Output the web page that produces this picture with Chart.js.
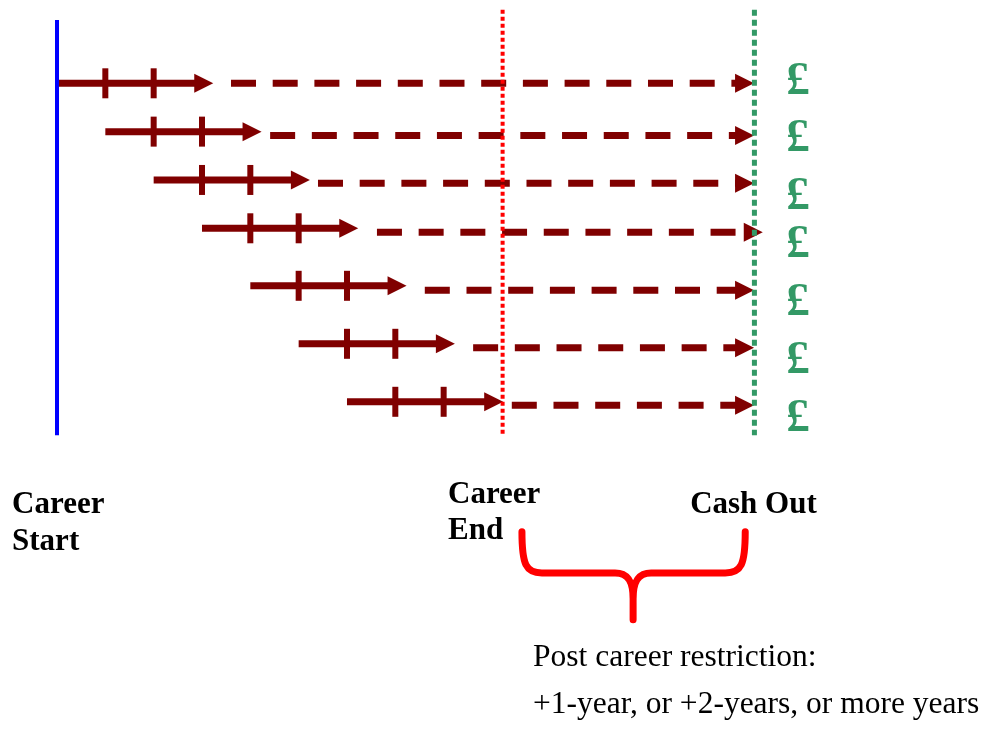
<!DOCTYPE html>
<html>
<head>
<meta charset="utf-8">
<script src="https://cdn.jsdelivr.net/npm/chart.js@4.4.1/dist/chart.umd.min.js"></script>
<style>
    body { margin: 0; background: #fff; }
</style>
</head>
<body>
<canvas id="chartCareer" width="988" height="733"></canvas>
<script>
/* =============================================
 * Career / cash out timeline
 * x = years since career start, y = row (down)
 * ============================================= */

// 1. Rows: solid part of the career (with yearly ticks)
const rowStart = [0, 1, 2, 3, 4, 5, 6];
const solidEnd = [2.86, 3.86, 4.86, 5.86, 6.86, 7.86, 8.86];
const tickA = [1, 2, 3, 4, 5, 6, 7];
const tickB = [2, 3, 4, 5, 6, 7, 8];
const solidRow = [1, 2, 3, 4, 5.19, 6.39, 7.59];

// 2. Rows: dashed part up to the cash out
const dashStart = [3.60, 4.41, 5.40, 6.62, 7.61, 8.61, 9.41];
const dashEnd = [14.05, 14.05, 14.05, 14.23, 14.05, 14.05, 14.05];
const dashRow = [1, 2.08, 3.07, 4.08, 5.28, 6.47, 7.66];

// 3. Pound signs at the cash out
const poundRow = [0.88, 2.07, 3.28, 4.26, 5.46, 6.67, 7.87];
const poundX = 15.33;

// 4. Milestones (vertical lines)
const milestones = ['Career Start', 'Career End', 'Cash Out'];
const milestoneX = [0, 9.22, 14.43];
const milestoneTop = [-0.31, -0.52, -0.52];
const milestoneBottom = [8.28, 8.28, 8.28];

const DARK_RED = '#800000';
const GREEN = '#339966';

// label placement (axis units): left edge + baselines
const labelPos = [
    { x: -0.93, lines: ['Career', 'Start'], base: [9.89, 10.65] },
    { x: 8.09, lines: ['Career', 'End'], base: [9.68, 10.43] },
    { x: 13.10, lines: ['Cash Out'], base: [9.89] }
];
const brace = { left: 9.62, right: 14.24, center: 11.92, top: 10.28, mid: 11.13, bottom: 12.1 };
const note = { x: 9.85, lines: ['Post career restriction:', '+1-year, or +2-years, or more years'], base: [13.06, 14.03] };

const datasets = [];

milestoneX.forEach((mx, i) => {
    datasets.push({
        label: milestones[i],
        data: [{ x: mx, y: milestoneTop[i] }, { x: mx, y: milestoneBottom[i] }],
        showLine: true,
        pointRadius: 0,
        borderColor: ['#0000ff', '#ff0000', GREEN][i],
        borderWidth: [4, 4, 5][i],
        borderDash: [[], [4, 3], [6, 4]][i],
        order: 0
    });
});

rowStart.forEach((s, i) => {
    datasets.push({
        data: [{ x: s, y: solidRow[i] }, { x: solidEnd[i], y: solidRow[i] }],
        showLine: true,
        pointRadius: 0,
        borderColor: DARK_RED,
        borderWidth: 7,
        arrow: true,
        order: 1
    });
    datasets.push({
        data: [{ x: tickA[i], y: solidRow[i] }, { x: tickB[i], y: solidRow[i] }],
        showLine: false,
        pointStyle: 'line',
        pointRadius: 15,
        pointRotation: 90,
        pointBorderWidth: 6,
        pointBorderColor: DARK_RED,
        order: 1
    });
    datasets.push({
        data: [{ x: dashStart[i], y: dashRow[i] }, { x: dashEnd[i], y: dashRow[i] }],
        showLine: true,
        pointRadius: 0,
        borderColor: DARK_RED,
        borderWidth: 7,
        borderDash: [25, 16.7],
        arrow: true,
        order: 1
    });
});

const decorations = {
    id: 'decorations',
    afterDatasetDraw(chart, args) {
        const ds = chart.data.datasets[args.index];
        if (!ds.arrow) return;
        const pts = args.meta.data;
        const a = pts[pts.length - 2], b = pts[pts.length - 1];
        const ctx = chart.ctx;
        ctx.save();
        ctx.translate(b.x, b.y);
        ctx.rotate(Math.atan2(b.y - a.y, b.x - a.x));
        ctx.beginPath();
        ctx.moveTo(-1, -9.5);
        ctx.lineTo(18, 0);
        ctx.lineTo(-1, 9.5);
        ctx.closePath();
        ctx.fillStyle = ds.borderColor;
        ctx.fill();
        ctx.restore();
    },
    afterDraw(chart) {
        const { ctx, scales: { x, y } } = chart;
        ctx.save();

        // pounds (centred on the row value)
        ctx.fillStyle = GREEN;
        ctx.font = 'bold 47px "Liberation Serif"';
        ctx.textAlign = 'center';
        ctx.textBaseline = 'alphabetic';
        poundRow.forEach(r => ctx.fillText('£', x.getPixelForValue(poundX), y.getPixelForValue(r) + 16));

        // milestone labels
        ctx.fillStyle = '#000';
        ctx.textAlign = 'left';
        ctx.font = 'bold 31px "Liberation Serif"';
        labelPos.forEach(l => {
            l.lines.forEach((t, k) => ctx.fillText(t, x.getPixelForValue(l.x), y.getPixelForValue(l.base[k])));
        });

        // brace
        const L = x.getPixelForValue(brace.left), R = x.getPixelForValue(brace.right);
        const C = x.getPixelForValue(brace.center);
        const T = y.getPixelForValue(brace.top), M = y.getPixelForValue(brace.mid), B = y.getPixelForValue(brace.bottom);
        ctx.strokeStyle = '#ff0000';
        ctx.lineWidth = 7;
        ctx.lineCap = 'round';
        ctx.lineJoin = 'round';
        ctx.beginPath();
        ctx.moveTo(L, T);
        ctx.bezierCurveTo(L, M - 8, L + 4, M, L + 20, M);
        ctx.lineTo(C - 18, M);
        ctx.bezierCurveTo(C - 4, M, C, M + 10, C, M + 26);
        ctx.lineTo(C, B);
        ctx.moveTo(C, M + 26);
        ctx.bezierCurveTo(C, M + 10, C + 4, M, C + 18, M);
        ctx.lineTo(R - 20, M);
        ctx.bezierCurveTo(R - 4, M, R, M - 8, R, T);
        ctx.stroke();

        // note under the brace
        ctx.font = '31.5px "Liberation Serif"';
        note.lines.forEach((t, k) => ctx.fillText(t, x.getPixelForValue(note.x), y.getPixelForValue(note.base[k])));

        ctx.restore();
    }
};

new Chart(document.getElementById('chartCareer'), {
    type: 'scatter',
    data: { datasets },
    options: {
        responsive: false,
        animation: false,
        events: [],
        layout: { padding: 0, autoPadding: false },
        plugins: {
            legend: { display: false },
            tooltip: { enabled: false }
        },
        scales: {
            x: { type: 'linear', display: false, min: -1.1794, max: 19.263 },
            y: { type: 'linear', display: false, min: -0.7236, max: 14.443, reverse: true }
        }
    },
    plugins: [decorations]
});
</script>
</body>
</html>
